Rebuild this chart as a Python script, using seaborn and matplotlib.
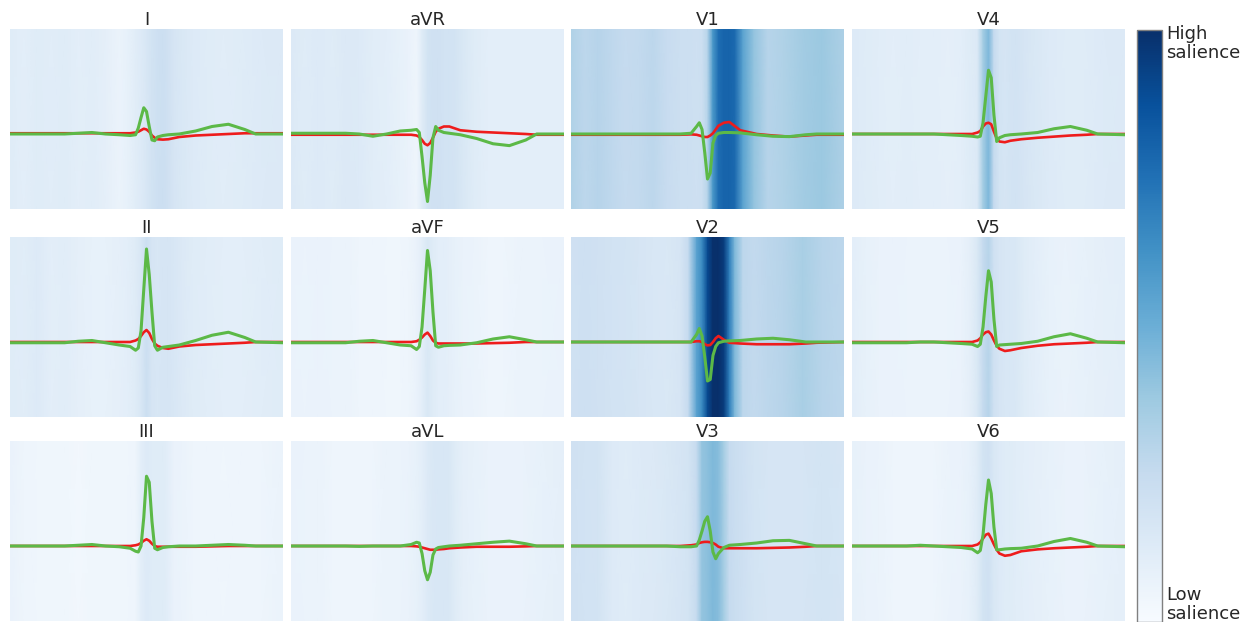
import numpy as np
import matplotlib
matplotlib.use("Agg")
import matplotlib.pyplot as plt
import seaborn as sns

# ---------------- data ----------------
LEADS = [["I", "aVR", "V1", "V4"],
         ["II", "aVF", "V2", "V5"],
         ["III", "aVL", "V3", "V6"]]

# time grid (fraction of the beat window) for the traces
T = [0, 0.1, 0.2, 0.25, 0.3, 0.35, 0.4, 0.44, 0.46, 0.47, 0.48, 0.49, 0.50,
     0.51, 0.52, 0.53, 0.54, 0.56, 0.58, 0.62, 0.68, 0.74, 0.80, 0.86, 0.90, 1.0]

# green trace (original beat) per lead
GREEN = {
    "I":   [0, 0, 0, 0.01, 0.02, 0.0, -0.01, -0.02, -0.01, 0.08, 0.22, 0.35, 0.30,
            0.10, -0.08, -0.09, -0.04, -0.02, -0.01, 0.0, 0.04, 0.10, 0.13, 0.06, 0.0, 0.0],
    "aVR": [0.01, 0.01, 0.01, 0.0, -0.03, 0.0, 0.04, 0.05, 0.06, 0.02, -0.30, -0.65, -0.90,
            -0.55, -0.05, 0.10, 0.05, 0.02, 0.01, -0.01, -0.06, -0.13, -0.155, -0.08, 0.0, 0.0],
    "V1":  [0, 0, 0, 0, 0, 0, 0, 0.01, 0.10, 0.15, 0.06, -0.25, -0.60,
            -0.52, -0.12, -0.02, 0.01, 0.02, 0.02, 0.015, -0.01, -0.03, -0.035, -0.01, 0.0, 0.0],
    "V4":  [0, 0, 0, 0, 0, -0.01, -0.02, -0.03, -0.04, -0.03, 0.15, 0.50, 0.85,
            0.75, 0.25, -0.10, -0.05, -0.02, -0.01, 0.0, 0.02, 0.07, 0.10, 0.05, 0.0, -0.01],
    "II":  [-0.01, -0.01, -0.01, 0.01, 0.02, -0.01, -0.04, -0.06, -0.11, -0.08, 0.15, 0.70, 1.24,
            0.90, 0.40, -0.05, -0.11, -0.07, -0.06, -0.04, 0.02, 0.09, 0.13, 0.06, 0.0, -0.01],
    "aVF": [-0.01, -0.01, -0.01, 0.01, 0.02, -0.01, -0.04, -0.05, -0.10, -0.06, 0.20, 0.70, 1.22,
            0.95, 0.40, -0.05, -0.07, -0.05, -0.045, -0.04, -0.01, 0.04, 0.07, 0.03, 0.0, 0.0],
    "V2":  [0, 0, 0, 0, 0, 0, 0, 0.0, 0.10, 0.18, 0.08, -0.20, -0.52,
            -0.50, -0.18, -0.06, -0.01, 0.01, 0.015, 0.02, 0.04, 0.05, 0.03, 0.0, 0.0, 0.0],
    "V5":  [-0.01, -0.01, -0.01, 0.0, 0.0, -0.01, -0.02, -0.03, -0.06, -0.03, 0.20, 0.60, 0.95,
            0.80, 0.30, -0.06, -0.04, -0.035, -0.03, -0.02, 0.01, 0.07, 0.11, 0.05, 0.0, -0.01],
    "III": [0, 0, 0, 0.01, 0.02, 0.0, -0.01, -0.03, -0.07, -0.08, 0.0, 0.38, 0.93,
            0.85, 0.33, -0.03, -0.05, -0.02, -0.01, 0.0, 0.0, 0.01, 0.02, 0.01, 0.0, 0.0],
    "aVL": [0, 0, 0, -0.005, 0, 0, 0, 0.02, 0.05, 0.04, -0.10, -0.33, -0.45,
            -0.35, -0.12, -0.04, -0.02, -0.01, 0.0, 0.01, 0.03, 0.05, 0.065, 0.03, 0.0, 0.0],
    "V3":  [0, 0, 0, 0, 0, 0, -0.01, -0.01, 0.0, 0.08, 0.20, 0.33, 0.39,
            0.20, -0.08, -0.17, -0.10, -0.02, 0.01, 0.02, 0.04, 0.07, 0.075, 0.03, 0.0, 0.0],
    "V6":  [0, 0, 0, 0.01, 0.0, -0.01, -0.02, -0.04, -0.09, -0.06, 0.15, 0.55, 0.88,
            0.70, 0.25, -0.05, -0.05, -0.04, -0.035, -0.03, 0.0, 0.06, 0.10, 0.05, 0.0, -0.01],
}

# red trace per lead
RED = {
    "I":   [0.01, 0.01, 0.01, 0.01, 0.01, 0.01, 0.01, 0.01, 0.02, 0.03, 0.05, 0.07, 0.06,
            0.03, -0.02, -0.05, -0.07, -0.075, -0.07, -0.04, -0.02, -0.01, 0.0, 0.01, 0.01, 0.01],
    "aVR": [-0.01, -0.01, -0.01, -0.01, -0.01, -0.01, -0.01, -0.01, -0.02, -0.04, -0.08, -0.13, -0.15,
            -0.12, -0.05, 0.03, 0.07, 0.10, 0.10, 0.05, 0.03, 0.02, 0.01, 0.0, -0.01, -0.01],
    "V1":  [-0.01, -0.01, -0.01, -0.01, -0.01, -0.01, -0.01, -0.005, -0.01, -0.02, -0.03, -0.04, -0.04,
            -0.02, 0.01, 0.06, 0.11, 0.15, 0.16, 0.05, 0.0, -0.02, -0.035, -0.02, -0.01, -0.01],
    "V4":  [0, 0, 0, 0, 0, 0, 0, 0, 0.02, 0.04, 0.10, 0.14, 0.15,
            0.13, 0.03, -0.06, -0.10, -0.11, -0.09, -0.07, -0.05, -0.035, -0.02, -0.01, 0.0, 0.0],
    "II":  [0, 0, 0, 0, 0, 0, 0, 0, 0.02, 0.04, 0.08, 0.13, 0.16,
            0.12, 0.04, -0.02, -0.05, -0.08, -0.09, -0.06, -0.04, -0.03, -0.02, -0.01, 0.0, 0.0],
    "aVF": [0, 0, 0, 0, 0, 0, 0, 0, 0.01, 0.03, 0.06, 0.10, 0.125,
            0.08, 0.02, -0.01, -0.02, -0.02, -0.02, -0.02, -0.02, -0.015, -0.01, 0.0, 0.0, 0.0],
    "V2":  [0, 0, 0, 0, 0, 0, 0, 0, 0.01, 0.01, 0.0, -0.03, -0.045,
            -0.04, 0.0, 0.05, 0.08, 0.03, -0.01, -0.02, -0.03, -0.03, -0.03, -0.02, -0.01, 0.0],
    "V5":  [0, 0, 0, 0, 0, 0, 0, 0, 0.02, 0.05, 0.10, 0.13, 0.14,
            0.10, 0.02, -0.05, -0.09, -0.12, -0.11, -0.08, -0.05, -0.03, -0.02, -0.01, 0.0, 0.0],
    "III": [0, 0, 0, 0, 0, 0, 0, 0, 0.01, 0.02, 0.04, 0.07, 0.09,
            0.07, 0.03, 0.0, -0.01, -0.01, -0.01, -0.01, -0.01, -0.005, 0.0, 0.0, 0.0, 0.0],
    "aVL": [0, 0, 0, 0, 0, 0, 0, 0, -0.005, -0.01, -0.02, -0.03, -0.04,
            -0.05, -0.05, -0.05, -0.045, -0.04, -0.03, -0.02, -0.01, -0.01, -0.01, -0.005, 0.0, 0.0],
    "V3":  [0, 0, 0, 0, 0, 0, 0, 0.01, 0.02, 0.04, 0.05, 0.055, 0.055,
            0.05, 0.04, 0.02, -0.01, -0.03, -0.03, -0.03, -0.03, -0.025, -0.02, -0.01, 0.0, 0.0],
    "V6":  [0, 0, 0, 0, 0, 0, 0, 0, 0.02, 0.05, 0.10, 0.15, 0.165,
            0.10, 0.02, -0.05, -0.10, -0.13, -0.12, -0.07, -0.045, -0.03, -0.02, -0.01, 0.0, 0.0],
}

# salience grid and per-lead salience (0 = low, 1 = high)
S = [0, 0.05, 0.1, 0.15, 0.2, 0.25, 0.3, 0.35, 0.4, 0.43, 0.46, 0.48, 0.5,
     0.52, 0.54, 0.56, 0.58, 0.6, 0.63, 0.67, 0.72, 0.78, 0.85, 0.92, 1.0]

SAL = {
    "I":   [0.12, 0.10, 0.12, 0.11, 0.12, 0.10, 0.11, 0.09, 0.06, 0.08, 0.11, 0.13, 0.16,
            0.19, 0.21, 0.22, 0.20, 0.17, 0.15, 0.13, 0.12, 0.11, 0.12, 0.13, 0.14],
    "aVR": [0.14, 0.12, 0.13, 0.12, 0.14, 0.13, 0.11, 0.10, 0.08, 0.07, 0.05, 0.12, 0.18,
            0.20, 0.20, 0.19, 0.19, 0.18, 0.15, 0.12, 0.10, 0.10, 0.10, 0.10, 0.10],
    "V1":  [0.32, 0.28, 0.30, 0.27, 0.25, 0.26, 0.28, 0.24, 0.22, 0.22, 0.21, 0.22, 0.30,
            0.60, 0.76, 0.80, 0.80, 0.78, 0.55, 0.40, 0.30, 0.32, 0.36, 0.38, 0.33],
    "V4":  [0.13, 0.12, 0.11, 0.10, 0.11, 0.10, 0.10, 0.09, 0.10, 0.12, 0.14, 0.35, 0.46,
            0.25, 0.18, 0.17, 0.18, 0.19, 0.17, 0.15, 0.13, 0.12, 0.12, 0.13, 0.14],
    "II":  [0.12, 0.11, 0.13, 0.10, 0.11, 0.09, 0.08, 0.08, 0.09, 0.10, 0.12, 0.16, 0.22,
            0.17, 0.16, 0.17, 0.17, 0.16, 0.14, 0.12, 0.11, 0.10, 0.10, 0.11, 0.12],
    "aVF": [0.07, 0.06, 0.07, 0.06, 0.06, 0.05, 0.05, 0.04, 0.04, 0.05, 0.07, 0.10, 0.15,
            0.12, 0.10, 0.10, 0.09, 0.08, 0.07, 0.06, 0.05, 0.05, 0.06, 0.06, 0.07],
    "V2":  [0.20, 0.21, 0.20, 0.19, 0.18, 0.17, 0.16, 0.15, 0.17, 0.25, 0.55, 0.65, 0.90,
            1.00, 1.00, 0.95, 0.70, 0.45, 0.28, 0.26, 0.28, 0.30, 0.34, 0.30, 0.28],
    "V5":  [0.10, 0.08, 0.07, 0.07, 0.06, 0.06, 0.06, 0.06, 0.07, 0.09, 0.15, 0.25, 0.30,
            0.20, 0.17, 0.16, 0.16, 0.15, 0.12, 0.10, 0.08, 0.07, 0.08, 0.09, 0.10],
    "III": [0.07, 0.05, 0.04, 0.04, 0.04, 0.03, 0.04, 0.04, 0.04, 0.04, 0.05, 0.10, 0.13,
            0.12, 0.12, 0.12, 0.10, 0.07, 0.06, 0.05, 0.05, 0.04, 0.05, 0.05, 0.06],
    "aVL": [0.07, 0.06, 0.06, 0.05, 0.05, 0.05, 0.05, 0.06, 0.06, 0.07, 0.08, 0.10, 0.13,
            0.15, 0.16, 0.16, 0.15, 0.12, 0.09, 0.08, 0.07, 0.07, 0.07, 0.08, 0.09],
    "V3":  [0.20, 0.19, 0.18, 0.13, 0.12, 0.13, 0.14, 0.15, 0.17, 0.18, 0.25, 0.40, 0.42,
            0.45, 0.43, 0.35, 0.25, 0.23, 0.21, 0.18, 0.17, 0.17, 0.17, 0.18, 0.17],
    "V6":  [0.08, 0.07, 0.06, 0.05, 0.05, 0.05, 0.05, 0.06, 0.07, 0.08, 0.12, 0.18, 0.20,
            0.15, 0.13, 0.12, 0.12, 0.11, 0.10, 0.09, 0.08, 0.07, 0.07, 0.08, 0.09],
}

CB_TOP_LABEL = "High\nsalience"
CB_BOTTOM_LABEL = "Low\nsalience"

# ---------------- figure ----------------
W, H = 1247, 622
fig = plt.figure(figsize=(W / 100, H / 100), dpi=100)
fig.patch.set_facecolor("white")

col_x = [10, 291, 571, 852]
row_y = [29, 237, 441]
pw, ph = 273, 180
YLIM = (-1.0, 1.4)
cmap = plt.get_cmap("Blues")

T_arr = np.array(T)
S_arr = np.array(S)

for r, row in enumerate(LEADS):
    for c, lead in enumerate(row):
        ax = fig.add_axes([col_x[c] / W, 1 - (row_y[r] + ph) / H, pw / W, ph / H])
        X = np.vstack([S_arr, S_arr])
        Y = np.vstack([np.full_like(S_arr, YLIM[0]), np.full_like(S_arr, YLIM[1])])
        C = np.vstack([SAL[lead], SAL[lead]])
        ax.pcolormesh(X, Y, C, cmap=cmap, vmin=0, vmax=1, shading="gouraud",
                      rasterized=True, zorder=0)
        sns.lineplot(x=T_arr, y=np.array(RED[lead]), ax=ax, color="#ee1c1c",
                     linewidth=1.9, zorder=2, solid_joinstyle="round")
        sns.lineplot(x=T_arr, y=np.array(GREEN[lead]), ax=ax, color="#5cb947",
                     linewidth=2.2, zorder=3, solid_joinstyle="round")
        ax.set_xlim(0, 1)
        ax.set_ylim(*YLIM)
        ax.set_axis_off()
        ax.set_title(lead, fontsize=13, color="#262626", pad=3)

# colorbar
cax = fig.add_axes([1137 / W, 1 - 622 / H, 25 / W, (622 - 30) / H])
sm = matplotlib.cm.ScalarMappable(cmap=cmap, norm=matplotlib.colors.Normalize(0, 1))
cb = fig.colorbar(sm, cax=cax)
cb.set_ticks([])
cb.outline.set_edgecolor("#808080")
cb.outline.set_linewidth(1.0)
fig.text(1166 / W, 1 - 25 / H, CB_TOP_LABEL, fontsize=13, color="#262626",
         ha="left", va="top", linespacing=1.1)
fig.text(1166 / W, 1 - 586 / H, CB_BOTTOM_LABEL, fontsize=13, color="#262626",
         ha="left", va="top", linespacing=1.05)

fig.savefig("out.png", dpi=100, facecolor="white")
